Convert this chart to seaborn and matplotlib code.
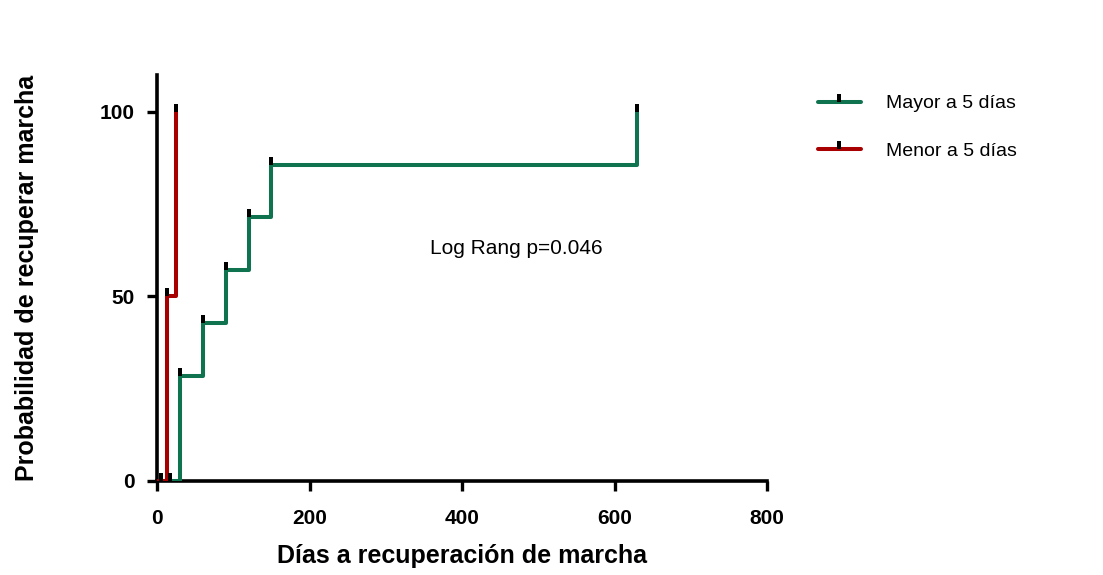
import numpy as np
import pandas as pd
import matplotlib
matplotlib.use('Agg')
import matplotlib.pyplot as plt
import seaborn as sns
from matplotlib.lines import Line2D

# --------------------------------------------------
# data
grupos = ['Mayor a 5 días', 'Menor a 5 días']
mayor_dias = [0, 30, 60, 90, 120, 150, 630]
mayor_prob = [0, 28.57, 42.86, 57.14, 71.43, 85.71, 100]
menor_dias = [0, 13, 25]
menor_prob = [0, 50, 100]
# black tick marks sitting on the x axis
base_dias = [5, 17]
base_prob = [0, 0]
colores = ['#0f7350', '#a80000']

x_ticks = [0, 200, 400, 600, 800]
y_ticks = [0, 50, 100]

# long table for seaborn
df = pd.DataFrame({
    'dias': mayor_dias + menor_dias,
    'prob': mayor_prob + menor_prob,
    'grupo': [grupos[0]] * len(mayor_dias) + [grupos[1]] * len(menor_dias),
})

sns.set_style('ticks')
plt.rcParams['font.family'] = ['Liberation Sans', 'DejaVu Sans']
plt.rcParams['text.color'] = 'black'
plt.rcParams['axes.labelcolor'] = 'black'
plt.rcParams['axes.edgecolor'] = 'black'
plt.rcParams['xtick.color'] = 'black'
plt.rcParams['ytick.color'] = 'black'

fig = plt.figure(figsize=(11.03, 5.75), dpi=100)
ax = fig.add_axes([157 / 1103, 1 - 481 / 575, 610 / 1103, 406 / 575])

sns.lineplot(data=df, x='dias', y='prob', hue='grupo',
             palette=dict(zip(grupos, colores)), drawstyle='steps-post',
             estimator=None, linewidth=2.9, legend=False, ax=ax, zorder=3)

# black marks at top of every jump
tick_mark = [(-0.31, 0), (0.31, 0), (0.31, 1), (-0.31, 1)]
marcas_x = mayor_dias[1:] + menor_dias[1:] + base_dias
marcas_y = mayor_prob[1:] + menor_prob[1:] + base_prob
ax.plot(marcas_x, marcas_y, linestyle='none', marker=tick_mark,
        markersize=11.6, markerfacecolor='black', markeredgewidth=0,
        zorder=4, clip_on=False)

ax.set_xlim(0, 800)
ax.set_ylim(0, 110)
ax.set_xticks(x_ticks)
ax.set_yticks(y_ticks)
sns.despine(ax=ax)
for side in ['left', 'bottom']:
    ax.spines[side].set_linewidth(2.6)
ax.tick_params(axis='both', direction='out', length=7, width=2.4,
               labelsize=15)
ax.tick_params(axis='x', pad=13)
ax.tick_params(axis='y', pad=9)
for lab in ax.get_xticklabels() + ax.get_yticklabels():
    lab.set_fontweight('bold')

ax.set_xlabel('Días a recuperación de marcha', fontsize=18,
              fontweight='bold', labelpad=12)
ax.set_ylabel('Probabilidad de recuperar marcha', fontsize=18,
              fontweight='bold', labelpad=44)

ax.text(358, 63, 'Log Rang p=0.046', fontsize=15, va='center', ha='left')

handles = [Line2D([], [], color=c, linewidth=2.9, marker=tick_mark,
                  markersize=11.6, markerfacecolor='black',
                  markeredgewidth=0) for c in colores]
fig.legend(handles, grupos, loc='upper left',
           bbox_to_anchor=(808 / 1103, 1 - 85 / 575), frameon=False,
           fontsize=14, handlelength=2.2, handletextpad=1.3,
           labelspacing=1.55, borderpad=0, markerscale=1)

fig.savefig('out.png', dpi=100)
